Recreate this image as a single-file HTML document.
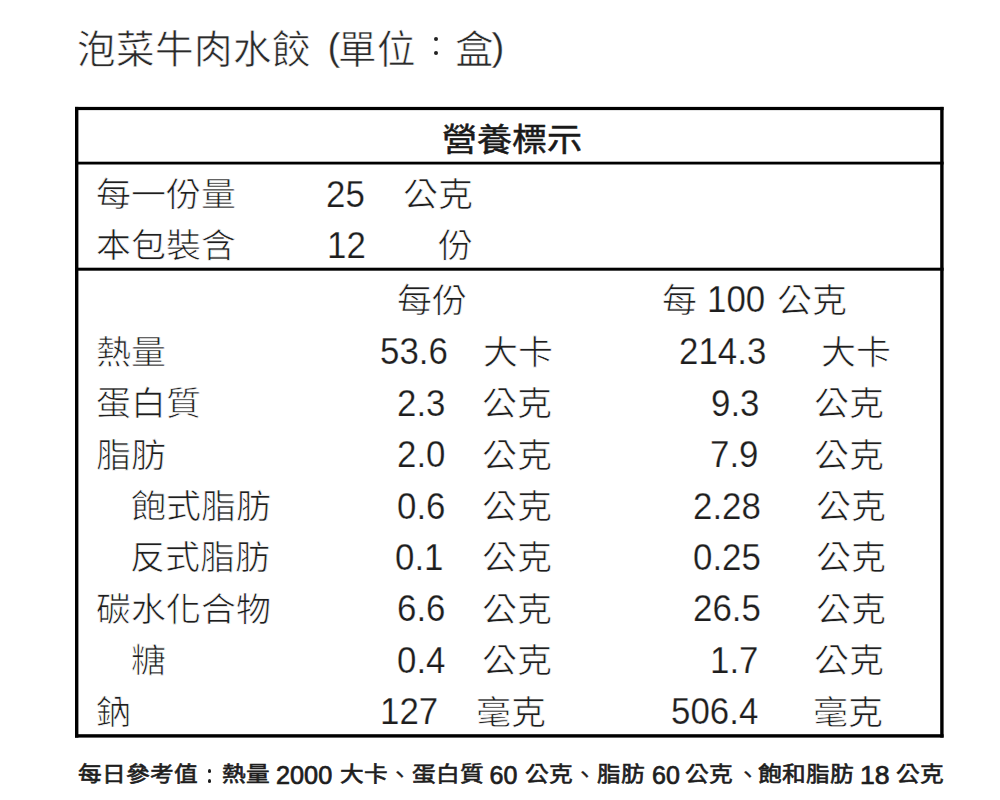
<!DOCTYPE html>
<html lang="zh-TW">
<head>
<meta charset="utf-8">
<style>
html,body{margin:0;padding:0;background:#fff;}
body{width:1000px;height:800px;position:relative;overflow:hidden;font-family:"Liberation Sans",sans-serif;}
.ln{position:absolute;background:#000;}
.dot{position:absolute;border-radius:50%;}
</style>
</head>
<body>
<svg style="position:absolute;left:0;top:0" width="1000" height="800" viewBox="0 0 1000 800" shape-rendering="geometricPrecision">
<rect x="75" y="106.9" width="868.6" height="3.2" fill="#000"/>
<rect x="75" y="734.2" width="868.6" height="3.4" fill="#000"/>
<rect x="75" y="106.9" width="3.4" height="630.7" fill="#000"/>
<rect x="940.2" y="106.9" width="3.4" height="630.7" fill="#000"/>
<rect x="75" y="161.7" width="868.6" height="2.8" fill="#000"/>
<rect x="75" y="267.7" width="868.6" height="3.0" fill="#000"/>
</svg>
<div class="dot" style="left:433.5px;top:37px;width:4px;height:4px;background:#222"></div>
<div class="dot" style="left:433.5px;top:51.25px;width:4px;height:4px;background:#222"></div>
<div class="dot" style="left:207.6px;top:769.3px;width:3.7px;height:3.7px;background:#1e1e1e"></div>
<div class="dot" style="left:207.6px;top:779.3px;width:3.7px;height:3.7px;background:#1e1e1e"></div>
<div style="position:absolute;left:76.5px;top:31.0px;font-size:38.5px;font-weight:400;color:#2a2a2a;white-space:pre;line-height:1;-webkit-text-stroke:0.6px #fff;">泡菜牛肉水餃</div>
<div style="position:absolute;left:327.5px;top:28.0px;font-size:38.5px;font-weight:400;color:#2a2a2a;white-space:pre;line-height:1;-webkit-text-stroke:0.3px #fff;">(</div>
<div style="position:absolute;left:337.5px;top:31.0px;font-size:38.5px;font-weight:400;color:#2a2a2a;white-space:pre;line-height:1;-webkit-text-stroke:0.6px #fff;">單位</div>
<div style="position:absolute;left:454.5px;top:31.0px;font-size:38.5px;font-weight:400;color:#2a2a2a;white-space:pre;line-height:1;-webkit-text-stroke:0.6px #fff;">盒</div>
<div style="position:absolute;left:491.5px;top:28.0px;font-size:38.5px;font-weight:400;color:#2a2a2a;white-space:pre;line-height:1;-webkit-text-stroke:0.3px #fff;">)</div>
<div style="position:absolute;left:441.5px;top:122.5px;font-size:35px;font-weight:400;color:#1a1a1a;white-space:pre;line-height:1;transform:scale(1.0000,0.9200);transform-origin:0 0;-webkit-text-stroke:0.6px #1a1a1a;">營養標示</div>
<div style="position:absolute;left:95.5px;top:177.5px;font-size:35px;font-weight:400;color:#1e1e1e;white-space:pre;line-height:1;transform:scale(1.0000,0.9400);transform-origin:0 0;-webkit-text-stroke:0.7px #fff;">每一份量</div>
<div style="position:absolute;left:326.0px;top:175.5px;font-size:37.5px;font-weight:400;color:#1e1e1e;white-space:pre;line-height:1;transform:scale(0.9300,1.0000);transform-origin:0 0;-webkit-text-stroke:0.25px #fff;">25</div>
<div style="position:absolute;left:402.5px;top:177.5px;font-size:35px;font-weight:400;color:#1e1e1e;white-space:pre;line-height:1;transform:scale(1.0000,0.9400);transform-origin:0 0;-webkit-text-stroke:0.7px #fff;">公克</div>
<div style="position:absolute;left:96.0px;top:229.0px;font-size:35px;font-weight:400;color:#1e1e1e;white-space:pre;line-height:1;transform:scale(1.0000,0.9400);transform-origin:0 0;-webkit-text-stroke:0.7px #fff;">本包裝含</div>
<div style="position:absolute;left:326.5px;top:227.0px;font-size:37.5px;font-weight:400;color:#1e1e1e;white-space:pre;line-height:1;transform:scale(0.9300,1.0000);transform-origin:0 0;-webkit-text-stroke:0.25px #fff;">12</div>
<div style="position:absolute;left:438.0px;top:228.5px;font-size:35px;font-weight:400;color:#1e1e1e;white-space:pre;line-height:1;transform:scale(1.0000,0.9400);transform-origin:0 0;-webkit-text-stroke:0.7px #fff;">份</div>
<div style="position:absolute;left:396.5px;top:283.5px;font-size:35px;font-weight:400;color:#1e1e1e;white-space:pre;line-height:1;transform:scale(1.0000,0.9400);transform-origin:0 0;-webkit-text-stroke:0.7px #fff;">每份</div>
<div style="position:absolute;left:661.5px;top:283.5px;font-size:35px;font-weight:400;color:#1e1e1e;white-space:pre;line-height:1;transform:scale(1.0000,0.9400);transform-origin:0 0;-webkit-text-stroke:0.7px #fff;">每</div>
<div style="position:absolute;left:707.0px;top:281.0px;font-size:37.5px;font-weight:400;color:#1e1e1e;white-space:pre;line-height:1;transform:scale(0.9300,1.0000);transform-origin:0 0;-webkit-text-stroke:0.25px #fff;">100</div>
<div style="position:absolute;left:776.5px;top:283.5px;font-size:35px;font-weight:400;color:#1e1e1e;white-space:pre;line-height:1;transform:scale(1.0000,0.9400);transform-origin:0 0;-webkit-text-stroke:0.7px #fff;">公克</div>
<div style="position:absolute;left:96.0px;top:336.0px;font-size:35px;font-weight:400;color:#1e1e1e;white-space:pre;line-height:1;transform:scale(1.0000,0.9400);transform-origin:0 0;-webkit-text-stroke:0.7px #fff;">熱量</div>
<div style="position:absolute;left:379.5px;top:333.0px;font-size:37.5px;font-weight:400;color:#1e1e1e;white-space:pre;line-height:1;transform:scale(0.9300,1.0000);transform-origin:0 0;-webkit-text-stroke:0.25px #fff;">53.6</div>
<div style="position:absolute;left:482.5px;top:335.5px;font-size:35px;font-weight:400;color:#1e1e1e;white-space:pre;line-height:1;transform:scale(1.0000,0.9400);transform-origin:0 0;-webkit-text-stroke:0.7px #fff;">大卡</div>
<div style="position:absolute;left:678.5px;top:333.0px;font-size:37.5px;font-weight:400;color:#1e1e1e;white-space:pre;line-height:1;transform:scale(0.9300,1.0000);transform-origin:0 0;-webkit-text-stroke:0.25px #fff;">214.3</div>
<div style="position:absolute;left:820.5px;top:335.5px;font-size:35px;font-weight:400;color:#1e1e1e;white-space:pre;line-height:1;transform:scale(1.0000,0.9400);transform-origin:0 0;-webkit-text-stroke:0.7px #fff;">大卡</div>
<div style="position:absolute;left:96.0px;top:387.0px;font-size:35px;font-weight:400;color:#1e1e1e;white-space:pre;line-height:1;transform:scale(1.0000,0.9400);transform-origin:0 0;-webkit-text-stroke:0.7px #fff;">蛋白質</div>
<div style="position:absolute;left:396.5px;top:384.5px;font-size:37.5px;font-weight:400;color:#1e1e1e;white-space:pre;line-height:1;transform:scale(0.9300,1.0000);transform-origin:0 0;-webkit-text-stroke:0.25px #fff;">2.3</div>
<div style="position:absolute;left:481.5px;top:387.0px;font-size:35px;font-weight:400;color:#1e1e1e;white-space:pre;line-height:1;transform:scale(1.0000,0.9400);transform-origin:0 0;-webkit-text-stroke:0.7px #fff;">公克</div>
<div style="position:absolute;left:710.5px;top:384.5px;font-size:37.5px;font-weight:400;color:#1e1e1e;white-space:pre;line-height:1;transform:scale(0.9300,1.0000);transform-origin:0 0;-webkit-text-stroke:0.25px #fff;">9.3</div>
<div style="position:absolute;left:813.5px;top:387.0px;font-size:35px;font-weight:400;color:#1e1e1e;white-space:pre;line-height:1;transform:scale(1.0000,0.9400);transform-origin:0 0;-webkit-text-stroke:0.7px #fff;">公克</div>
<div style="position:absolute;left:96.0px;top:438.5px;font-size:35px;font-weight:400;color:#1e1e1e;white-space:pre;line-height:1;transform:scale(1.0000,0.9400);transform-origin:0 0;-webkit-text-stroke:0.7px #fff;">脂肪</div>
<div style="position:absolute;left:396.5px;top:436.0px;font-size:37.5px;font-weight:400;color:#1e1e1e;white-space:pre;line-height:1;transform:scale(0.9300,1.0000);transform-origin:0 0;-webkit-text-stroke:0.25px #fff;">2.0</div>
<div style="position:absolute;left:481.5px;top:438.5px;font-size:35px;font-weight:400;color:#1e1e1e;white-space:pre;line-height:1;transform:scale(1.0000,0.9400);transform-origin:0 0;-webkit-text-stroke:0.7px #fff;">公克</div>
<div style="position:absolute;left:709.5px;top:436.0px;font-size:37.5px;font-weight:400;color:#1e1e1e;white-space:pre;line-height:1;transform:scale(0.9300,1.0000);transform-origin:0 0;-webkit-text-stroke:0.25px #fff;">7.9</div>
<div style="position:absolute;left:813.5px;top:438.5px;font-size:35px;font-weight:400;color:#1e1e1e;white-space:pre;line-height:1;transform:scale(1.0000,0.9400);transform-origin:0 0;-webkit-text-stroke:0.7px #fff;">公克</div>
<div style="position:absolute;left:131.0px;top:490.0px;font-size:35px;font-weight:400;color:#1e1e1e;white-space:pre;line-height:1;transform:scale(1.0000,0.9400);transform-origin:0 0;-webkit-text-stroke:0.7px #fff;">飽式脂肪</div>
<div style="position:absolute;left:396.5px;top:487.5px;font-size:37.5px;font-weight:400;color:#1e1e1e;white-space:pre;line-height:1;transform:scale(0.9300,1.0000);transform-origin:0 0;-webkit-text-stroke:0.25px #fff;">0.6</div>
<div style="position:absolute;left:481.5px;top:490.0px;font-size:35px;font-weight:400;color:#1e1e1e;white-space:pre;line-height:1;transform:scale(1.0000,0.9400);transform-origin:0 0;-webkit-text-stroke:0.7px #fff;">公克</div>
<div style="position:absolute;left:692.5px;top:487.5px;font-size:37.5px;font-weight:400;color:#1e1e1e;white-space:pre;line-height:1;transform:scale(0.9300,1.0000);transform-origin:0 0;-webkit-text-stroke:0.25px #fff;">2.28</div>
<div style="position:absolute;left:816.0px;top:490.0px;font-size:35px;font-weight:400;color:#1e1e1e;white-space:pre;line-height:1;transform:scale(1.0000,0.9400);transform-origin:0 0;-webkit-text-stroke:0.7px #fff;">公克</div>
<div style="position:absolute;left:130.0px;top:541.0px;font-size:35px;font-weight:400;color:#1e1e1e;white-space:pre;line-height:1;transform:scale(1.0000,0.9400);transform-origin:0 0;-webkit-text-stroke:0.7px #fff;">反式脂肪</div>
<div style="position:absolute;left:394.5px;top:538.5px;font-size:37.5px;font-weight:400;color:#1e1e1e;white-space:pre;line-height:1;transform:scale(0.9300,1.0000);transform-origin:0 0;-webkit-text-stroke:0.25px #fff;">0.1</div>
<div style="position:absolute;left:481.5px;top:541.0px;font-size:35px;font-weight:400;color:#1e1e1e;white-space:pre;line-height:1;transform:scale(1.0000,0.9400);transform-origin:0 0;-webkit-text-stroke:0.7px #fff;">公克</div>
<div style="position:absolute;left:692.5px;top:538.5px;font-size:37.5px;font-weight:400;color:#1e1e1e;white-space:pre;line-height:1;transform:scale(0.9300,1.0000);transform-origin:0 0;-webkit-text-stroke:0.25px #fff;">0.25</div>
<div style="position:absolute;left:816.0px;top:541.0px;font-size:35px;font-weight:400;color:#1e1e1e;white-space:pre;line-height:1;transform:scale(1.0000,0.9400);transform-origin:0 0;-webkit-text-stroke:0.7px #fff;">公克</div>
<div style="position:absolute;left:96.0px;top:592.5px;font-size:35px;font-weight:400;color:#1e1e1e;white-space:pre;line-height:1;transform:scale(1.0000,0.9400);transform-origin:0 0;-webkit-text-stroke:0.7px #fff;">碳水化合物</div>
<div style="position:absolute;left:396.5px;top:590.0px;font-size:37.5px;font-weight:400;color:#1e1e1e;white-space:pre;line-height:1;transform:scale(0.9300,1.0000);transform-origin:0 0;-webkit-text-stroke:0.25px #fff;">6.6</div>
<div style="position:absolute;left:481.5px;top:592.5px;font-size:35px;font-weight:400;color:#1e1e1e;white-space:pre;line-height:1;transform:scale(1.0000,0.9400);transform-origin:0 0;-webkit-text-stroke:0.7px #fff;">公克</div>
<div style="position:absolute;left:692.5px;top:590.0px;font-size:37.5px;font-weight:400;color:#1e1e1e;white-space:pre;line-height:1;transform:scale(0.9300,1.0000);transform-origin:0 0;-webkit-text-stroke:0.25px #fff;">26.5</div>
<div style="position:absolute;left:816.0px;top:592.5px;font-size:35px;font-weight:400;color:#1e1e1e;white-space:pre;line-height:1;transform:scale(1.0000,0.9400);transform-origin:0 0;-webkit-text-stroke:0.7px #fff;">公克</div>
<div style="position:absolute;left:131.0px;top:644.0px;font-size:35px;font-weight:400;color:#1e1e1e;white-space:pre;line-height:1;transform:scale(1.0000,0.9400);transform-origin:0 0;-webkit-text-stroke:0.7px #fff;">糖</div>
<div style="position:absolute;left:396.5px;top:641.5px;font-size:37.5px;font-weight:400;color:#1e1e1e;white-space:pre;line-height:1;transform:scale(0.9300,1.0000);transform-origin:0 0;-webkit-text-stroke:0.25px #fff;">0.4</div>
<div style="position:absolute;left:481.5px;top:644.0px;font-size:35px;font-weight:400;color:#1e1e1e;white-space:pre;line-height:1;transform:scale(1.0000,0.9400);transform-origin:0 0;-webkit-text-stroke:0.7px #fff;">公克</div>
<div style="position:absolute;left:709.5px;top:641.5px;font-size:37.5px;font-weight:400;color:#1e1e1e;white-space:pre;line-height:1;transform:scale(0.9300,1.0000);transform-origin:0 0;-webkit-text-stroke:0.25px #fff;">1.7</div>
<div style="position:absolute;left:813.5px;top:644.0px;font-size:35px;font-weight:400;color:#1e1e1e;white-space:pre;line-height:1;transform:scale(1.0000,0.9400);transform-origin:0 0;-webkit-text-stroke:0.7px #fff;">公克</div>
<div style="position:absolute;left:96.0px;top:695.5px;font-size:35px;font-weight:400;color:#1e1e1e;white-space:pre;line-height:1;transform:scale(1.0000,0.9400);transform-origin:0 0;-webkit-text-stroke:0.7px #fff;">鈉</div>
<div style="position:absolute;left:379.5px;top:693.0px;font-size:37.5px;font-weight:400;color:#1e1e1e;white-space:pre;line-height:1;transform:scale(0.9300,1.0000);transform-origin:0 0;-webkit-text-stroke:0.25px #fff;">127</div>
<div style="position:absolute;left:475.5px;top:695.5px;font-size:35px;font-weight:400;color:#1e1e1e;white-space:pre;line-height:1;transform:scale(1.0000,0.9400);transform-origin:0 0;-webkit-text-stroke:0.7px #fff;">毫克</div>
<div style="position:absolute;left:671.0px;top:693.0px;font-size:37.5px;font-weight:400;color:#1e1e1e;white-space:pre;line-height:1;transform:scale(0.9300,1.0000);transform-origin:0 0;-webkit-text-stroke:0.25px #fff;">506.4</div>
<div style="position:absolute;left:813.0px;top:695.5px;font-size:35px;font-weight:400;color:#1e1e1e;white-space:pre;line-height:1;transform:scale(1.0000,0.9400);transform-origin:0 0;-webkit-text-stroke:0.7px #fff;">毫克</div>
<div style="position:absolute;left:77.5px;top:764.0px;font-size:23.7px;font-weight:400;color:#1e1e1e;white-space:pre;line-height:1;transform:scale(1.0000,0.8800);transform-origin:0 0;-webkit-text-stroke:0.7px #1e1e1e;">每日參考值</div>
<div style="position:absolute;left:221.5px;top:764.0px;font-size:23.7px;font-weight:400;color:#1e1e1e;white-space:pre;line-height:1;transform:scale(1.0000,0.8800);transform-origin:0 0;-webkit-text-stroke:0.7px #1e1e1e;">熱量</div>
<div style="position:absolute;left:339.5px;top:764.0px;font-size:23.7px;font-weight:400;color:#1e1e1e;white-space:pre;line-height:1;transform:scale(1.0000,0.8800);transform-origin:0 0;-webkit-text-stroke:0.7px #1e1e1e;">大卡</div>
<div style="position:absolute;left:412.0px;top:764.0px;font-size:23.7px;font-weight:400;color:#1e1e1e;white-space:pre;line-height:1;transform:scale(1.0000,0.8800);transform-origin:0 0;-webkit-text-stroke:0.7px #1e1e1e;">蛋白質</div>
<div style="position:absolute;left:525.0px;top:764.0px;font-size:23.7px;font-weight:400;color:#1e1e1e;white-space:pre;line-height:1;transform:scale(1.0000,0.8800);transform-origin:0 0;-webkit-text-stroke:0.7px #1e1e1e;">公克</div>
<div style="position:absolute;left:596.5px;top:764.0px;font-size:23.7px;font-weight:400;color:#1e1e1e;white-space:pre;line-height:1;transform:scale(1.0000,0.8800);transform-origin:0 0;-webkit-text-stroke:0.7px #1e1e1e;">脂肪</div>
<div style="position:absolute;left:685.0px;top:764.0px;font-size:23.7px;font-weight:400;color:#1e1e1e;white-space:pre;line-height:1;transform:scale(1.0000,0.8800);transform-origin:0 0;-webkit-text-stroke:0.7px #1e1e1e;">公克</div>
<div style="position:absolute;left:758.0px;top:764.0px;font-size:23.7px;font-weight:400;color:#1e1e1e;white-space:pre;line-height:1;transform:scale(1.0000,0.8800);transform-origin:0 0;-webkit-text-stroke:0.7px #1e1e1e;">飽和脂肪</div>
<div style="position:absolute;left:896.0px;top:764.0px;font-size:23.7px;font-weight:400;color:#1e1e1e;white-space:pre;line-height:1;transform:scale(1.0000,0.8800);transform-origin:0 0;-webkit-text-stroke:0.7px #1e1e1e;">公克</div>
<div style="position:absolute;left:276.0px;top:762.5px;font-size:25px;font-weight:400;color:#1e1e1e;white-space:pre;line-height:1;transform:scale(1.0111,1.0000);transform-origin:0 0;-webkit-text-stroke:0.7px #1e1e1e;">2000</div>
<div style="position:absolute;left:489.5px;top:762.5px;font-size:25px;font-weight:400;color:#1e1e1e;white-space:pre;line-height:1;-webkit-text-stroke:0.7px #1e1e1e;">60</div>
<div style="position:absolute;left:652.0px;top:762.5px;font-size:25px;font-weight:400;color:#1e1e1e;white-space:pre;line-height:1;-webkit-text-stroke:0.7px #1e1e1e;">60</div>
<div style="position:absolute;left:859.5px;top:762.5px;font-size:25px;font-weight:400;color:#1e1e1e;white-space:pre;line-height:1;transform:scale(1.0640,1.0000);transform-origin:0 0;-webkit-text-stroke:0.7px #1e1e1e;">18</div>
<div style="position:absolute;left:388.0px;top:763.5px;font-size:23.7px;font-weight:400;color:#1e1e1e;white-space:pre;line-height:1;-webkit-text-stroke:0.3px #1e1e1e;">、</div>
<div style="position:absolute;left:573.0px;top:763.5px;font-size:23.7px;font-weight:400;color:#1e1e1e;white-space:pre;line-height:1;-webkit-text-stroke:0.3px #1e1e1e;">、</div>
<div style="position:absolute;left:735.5px;top:763.5px;font-size:23.7px;font-weight:400;color:#1e1e1e;white-space:pre;line-height:1;-webkit-text-stroke:0.3px #1e1e1e;">、</div>
</body>
</html>
